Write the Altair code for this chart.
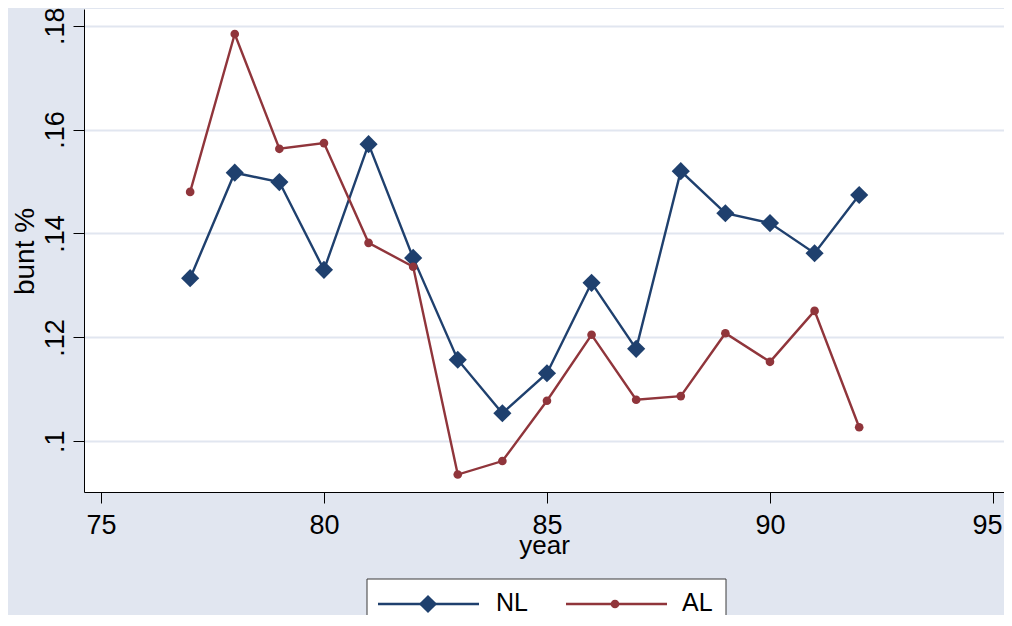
import altair as alt
import pandas as pd

years = [77, 78, 79, 80, 81, 82, 83, 84, 85, 86, 87, 88, 89, 90, 91, 92]
nl = [0.1314, 0.1517, 0.1499, 0.1330, 0.1572, 0.1353, 0.1157, 0.1054,
      0.1131, 0.1305, 0.1178, 0.1520, 0.1439, 0.1420, 0.1362, 0.1474]
al = [0.1480, 0.1784, 0.1563, 0.1574, 0.1382, 0.1336, 0.0936, 0.0962,
      0.1078, 0.1205, 0.1080, 0.1087, 0.1208, 0.1153, 0.1251, 0.1027]
series = ["NL", "AL"]
x_ticks = [75, 80, 85, 90, 95]
y_ticks = [0.10, 0.12, 0.14, 0.16, 0.18]

NAVY = "#1f406e"
MAROON = "#90353b"
colors = {"NL": NAVY, "AL": MAROON}
shapes = {"NL": "diamond", "AL": "circle"}
sizes = {"NL": 330, "AL": 75}
FONT = "Liberation Sans"

df = pd.DataFrame({
    "year": years * 2,
    "bunt": nl + al,
    "league": ["NL"] * len(years) + ["AL"] * len(years),
})

xscale = alt.Scale(domain=[74.62, 95.247], nice=False, zero=False)
yscale = alt.Scale(domain=[0.09024, 0.18321], nice=False, zero=False)

xaxis = alt.Axis(values=x_ticks, title="year", grid=False, tickSize=11,
                 labelOffset={"condition": {"test": "datum.value == 95", "value": -6}, "value": 0},
                 labelFontSize=27, labelBaseline="alphabetic", labelPadding=30,
                 titleFontSize=26, titleFontWeight="normal",
                 titleBaseline="alphabetic", titleY=61, labelFlush=False)
yaxis = alt.Axis(values=y_ticks, title="bunt %", grid=True, tickSize=11,
                 labelExpr="replace(format(datum.value, '.2~f'), '0.', '.')",
                 labelAngle=270, labelAlign="center", labelBaseline="alphabetic",
                 labelPadding=10, labelFontSize=27,
                 titleFontSize=28, titleFontWeight="normal", titleAngle=270,
                 titleBaseline="alphabetic", titleAlign="center",
                 titleX=-51, titleY=242, labelFlush=False)

enc_x = alt.X("year:Q", scale=xscale, axis=xaxis)
enc_y = alt.Y("bunt:Q", scale=yscale, axis=yaxis)

layers = []
for s in series:
    sub = alt.Chart(df).transform_filter(alt.datum.league == s)
    layers.append(sub.mark_line(color=colors[s], strokeWidth=2.4).encode(x=enc_x, y=enc_y))
    layers.append(sub.mark_point(filled=True, opacity=1, color=colors[s],
                                 shape=shapes[s], size=sizes[s]).encode(x=enc_x, y=enc_y))

# legend (drawn manually below the plot)
one = pd.DataFrame({"k": [0]})
layers.append(alt.Chart(one).mark_rect(fill="white", stroke="#3a3a3a", strokeWidth=1).encode(
    x=alt.value(283), x2=alt.value(642), y=alt.value(570), y2=alt.value(660)))
leg_pos = {"NL": (294, 395, 344, 412), "AL": (482, 583, 531, 598)}
for s in series:
    x1, x2, xm, xt = leg_pos[s]
    layers.append(alt.Chart(one).mark_rule(color=colors[s], strokeWidth=2.4).encode(
        x=alt.value(x1), x2=alt.value(x2), y=alt.value(595)))
    layers.append(alt.Chart(one).mark_point(filled=True, opacity=1, color=colors[s],
                                            shape=shapes[s], size=sizes[s]).encode(
        x=alt.value(xm), y=alt.value(595)))
    layers.append(alt.Chart(one).mark_text(align="left", baseline="alphabetic", fontSize=25,
                                           font=FONT, color="black").encode(
        x=alt.value(xt), y=alt.value(602), text=alt.value(s)))

chart = alt.layer(*layers).properties(
    width=920, height=483,
    autosize=alt.AutoSizeParams(type="none"),
    padding={"left": 76, "top": 1, "right": 0, "bottom": 123},
    background="#e1e6f0",
).configure_view(
    fill="white", stroke=None
).configure_axis(
    domainColor="black", domainWidth=1, tickColor="black", tickWidth=1,
    labelColor="black", titleColor="black", labelFont=FONT, titleFont=FONT,
    gridColor="#e1e6f0", gridWidth=2,
)

chart.save("out.html", embed_options={"renderer": "svg", "actions": False})
